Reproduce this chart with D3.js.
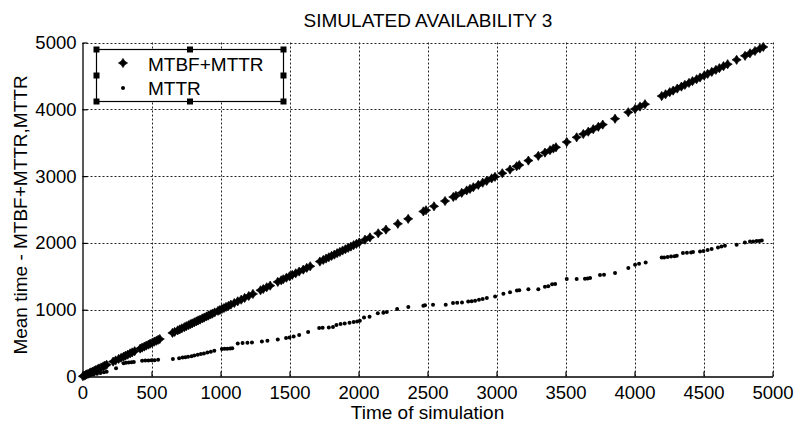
<!DOCTYPE html>
<html>
<head>
<meta charset="utf-8">
<script src="https://cdn.jsdelivr.net/npm/d3@7"></script>
<style>
body { margin: 0; background: #fff; }
text { font-family: "Liberation Sans", Arial, sans-serif; fill: #000; }
</style>
</head>
<body>
<svg id="chart" width="794" height="423"></svg>
<script>
// chart values
var titleText = "SIMULATED AVAILABILITY 3"
var xLabel = "Time of simulation"
var yLabel = "Mean time - MTBF+MTTR,MTTR"
var seriesNames = ["MTBF+MTTR", "MTTR"]
var xTicks = [0, 500, 1000, 1500, 2000, 2500, 3000, 3500, 4000, 4500, 5000]
var yTicks = [0, 1000, 2000, 3000, 4000, 5000]

// MTBF+MTTR series
var totalTimes = [3, 12, 22, 30, 40, 52, 60, 72, 85, 95, 108, 120, 135, 150, 162, 175,
    222, 240, 262, 280, 298, 312, 328, 345, 360, 378,
    418, 432, 448, 462, 478, 490, 505, 520, 535, 548, 560,
    652, 668, 690, 705, 720, 738, 752, 768, 782, 795, 810, 825, 838, 852, 868, 882, 898, 912, 928, 942, 958,
    982, 995, 1010, 1025, 1040, 1058, 1075, 1100, 1125, 1150, 1175, 1205, 1235,
    1290, 1310, 1335, 1360, 1415, 1440, 1455,
    1478, 1500, 1520, 1545, 1570, 1600, 1625, 1650,
    1720, 1745, 1765, 1785, 1805, 1825, 1845, 1865, 1885, 1905, 1925, 1945, 1965, 1985, 2005,
    2047, 2083, 2143, 2199, 2285, 2360,
    2470, 2489, 2547, 2627, 2687, 2706, 2748,
    2784, 2808, 2832, 2868, 2900, 2929, 2965, 2989,
    3042, 3098, 3146, 3165, 3231, 3303,
    3351, 3388, 3412, 3431, 3509, 3581,
    3629, 3665, 3701, 3738, 3770, 3859,
    3955, 4004, 4040, 4076,
    4197, 4225, 4255, 4280, 4310, 4340, 4365, 4395, 4420, 4450, 4475, 4505, 4530, 4560, 4590, 4615, 4645, 4675,
    4740, 4801, 4837, 4873, 4909, 4933]
var totalValues = [4, 13, 22, 31, 40, 52, 61, 72, 86, 95, 108, 121, 135, 151, 162, 176,
    223, 240, 263, 280, 298, 313, 328, 346, 360, 379,
    418, 433, 448, 463, 478, 491, 505, 521, 535, 549, 561,
    653, 668, 691, 705, 721, 738, 753, 768, 783, 795, 811, 825, 839, 852, 869, 882, 899, 912, 929, 942, 959,
    983, 995, 1011, 1025, 1041, 1058, 1076, 1100, 1126, 1150, 1176, 1205, 1236,
    1291, 1310, 1336, 1360, 1416, 1440, 1456,
    1479, 1500, 1521, 1545, 1571, 1600, 1626, 1650,
    1721, 1745, 1766, 1785, 1806, 1825, 1846, 1865, 1886, 1905, 1926, 1945, 1966, 1985, 2006,
    2048, 2083, 2144, 2199, 2286, 2360,
    2471, 2489, 2548, 2627, 2688, 2706, 2749,
    2785, 2808, 2833, 2868, 2901, 2929, 2966, 2989,
    3043, 3098, 3147, 3165, 3232, 3303,
    3352, 3388, 3413, 3431, 3510, 3581,
    3630, 3665, 3702, 3738, 3771, 3859,
    3956, 4004, 4041, 4076,
    4198, 4225, 4256, 4280, 4311, 4340, 4366, 4395, 4421, 4450, 4476, 4505, 4531, 4560, 4591, 4615, 4646, 4675,
    4741, 4801, 4838, 4873, 4910, 4933]

// MTTR series
var mttrTimes = [10, 30, 55, 80, 105, 130, 155, 175,
    243, 298, 315, 335, 355, 372,
    432, 455, 478, 500, 522, 548,
    655, 700, 725, 745, 765, 790, 810, 835, 858, 880, 905, 930, 955,
    1010, 1030, 1050, 1070, 1085,
    1125, 1160, 1195, 1228,
    1300, 1340, 1415,
    1475, 1500, 1530, 1570, 1635,
    1715, 1740, 1785, 1815,
    1840, 1870, 1900, 1935, 1965, 1990, 2010,
    2040, 2080, 2140, 2180, 2205, 2280, 2361,
    2470, 2482, 2540, 2632,
    2685, 2715, 2750, 2795, 2820, 2845, 2873, 2900, 2930,
    2990, 3050, 3098, 3148, 3165,
    3231, 3303, 3351, 3375, 3403, 3425,
    3509, 3581, 3641, 3660, 3678,
    3750, 3779, 3859,
    3955, 4004, 4033, 4081,
    4197, 4215, 4240, 4265, 4290, 4306,
    4351, 4380, 4410, 4424,
    4475, 4500, 4530, 4559,
    4605, 4630, 4655, 4740,
    4800, 4837, 4860, 4885, 4905, 4922]
var mttrValues = [4, 12, 20, 30, 42, 52, 62, 70,
    125, 200, 205, 210, 212, 216,
    235, 238, 240, 242, 245, 250,
    262, 275, 285, 290, 295, 305, 315, 325, 335, 345, 358, 372, 385,
    412, 415, 417, 420, 422,
    495, 500, 505, 510,
    525, 535, 555,
    575, 585, 600, 620, 665,
    725, 730, 735, 740,
    770, 785, 795, 805, 815, 825, 835,
    885, 895, 945, 955, 965, 1010, 1039,
    1060, 1065, 1073, 1073,
    1100, 1105, 1108, 1123, 1128, 1133, 1148, 1160, 1174,
    1198, 1238, 1263, 1288, 1290,
    1308, 1308, 1345, 1350, 1380, 1386,
    1458, 1458, 1463, 1468, 1473,
    1520, 1524, 1548,
    1623, 1672, 1687, 1707,
    1781, 1783, 1790, 1795, 1802, 1807,
    1847, 1852, 1858, 1862,
    1871, 1880, 1892, 1907,
    1931, 1945, 1956, 1971,
    2006, 2021, 2021, 2028, 2030, 2036]

var svg = d3.select("#chart")
var plotLeft = 82.5, plotRight = 772.5, plotTop = 42.5, plotBottom = 376.5

var xScale = d3.scaleLinear().domain([0, 5000]).range([plotLeft, plotRight])
var yScale = d3.scaleLinear().domain([0, 5000]).range([plotBottom, plotTop])

// grid, dotted like the original
var grid = svg.append("g")
grid.selectAll("line.vgrid")
    .data(xTicks.filter(function(d){return d > 0}))
    .enter()
        .append("line")
        .attr("x1", function(d){return Math.round(xScale(d)) + 0.5})
        .attr("x2", function(d){return Math.round(xScale(d)) + 0.5})
        .attr("y1", plotTop)
        .attr("y2", plotBottom)
        .attr("stroke", "#222")
        .attr("stroke-width", 1)
        .attr("stroke-dasharray", "2,2")
grid.selectAll("line.hgrid")
    .data(yTicks.filter(function(d){return d > 0}))
    .enter()
        .append("line")
        .attr("x1", plotLeft)
        .attr("x2", plotRight)
        .attr("y1", function(d){return Math.round(yScale(d)) + 0.5})
        .attr("y2", function(d){return Math.round(yScale(d)) + 0.5})
        .attr("stroke", "#222")
        .attr("stroke-width", 1)
        .attr("stroke-dasharray", "2,2")

// axes: ticks point inward
var xAxis = d3.axisBottom(xScale).tickValues(xTicks).tickFormat(d3.format("d"))
    .tickSizeInner(-5).tickSizeOuter(0).tickPadding(9)
var yAxis = d3.axisLeft(yScale).tickValues(yTicks).tickFormat(d3.format("d"))
    .tickSizeInner(-5).tickSizeOuter(0).tickPadding(6)

svg.append("g").attr("transform", "translate(0," + plotBottom + ")").call(xAxis)
svg.append("g").attr("transform", "translate(" + plotLeft + ",0)").call(yAxis)

svg.selectAll(".domain").attr("stroke", "#000").attr("stroke-width", 1.3)
svg.selectAll(".tick line").attr("stroke", "#000").attr("stroke-width", 1.2)
svg.selectAll(".tick text")
    .style("font-family", "'Liberation Sans', Arial, sans-serif")
    .style("font-size", "18.5px")
    .attr("fill", "#000")

// star marker for MTBF+MTTR
function starPath(r, w)
{
    return "M0," + (-r) + "L" + w + "," + (-w) + "L" + r + ",0L" + w + "," + w +
        "L0," + r + "L" + (-w) + "," + w + "L" + (-r) + ",0L" + (-w) + "," + (-w) + "Z"
}

var totalData = totalTimes.map(function(t, i){return {x: t, y: totalValues[i]}})
var mttrData = mttrTimes.map(function(t, i){return {x: t, y: mttrValues[i]}})

svg.append("g").selectAll("path")
    .data(totalData)
    .enter()
        .append("path")
        .attr("d", starPath(4.6, 1.8))
        .attr("transform", function(d){return "translate(" + xScale(d.x) + "," + yScale(d.y) + ")"})
        .attr("fill", "#000")
        .attr("stroke", "#000")
        .attr("stroke-width", 0.7)

svg.append("g").selectAll("circle")
    .data(mttrData)
    .enter()
        .append("circle")
        .attr("r", 2)
        .attr("cx", function(d){return xScale(d.x)})
        .attr("cy", function(d){return yScale(d.y)})
        .attr("fill", "#000")

// title and axis labels
svg.append("text")
    .attr("x", (plotLeft + plotRight) / 2 + 0.5)
    .attr("y", 27)
    .attr("text-anchor", "middle")
    .style("font-size", "19px")
    .text(titleText)

svg.append("text")
    .attr("x", (plotLeft + plotRight) / 2)
    .attr("y", 419)
    .attr("text-anchor", "middle")
    .style("font-size", "19px")
    .text(xLabel)

svg.append("text")
    .attr("transform", "translate(27,215) rotate(-90)")
    .attr("text-anchor", "middle")
    .style("font-size", "19px")
    .text(yLabel)

// legend, with the selection handles seen in the picture
var lg = {x: 96, y: 49, w: 187, h: 52}
var legend = svg.append("g")
legend.append("rect")
    .attr("x", lg.x + 0.5)
    .attr("y", lg.y + 0.5)
    .attr("width", lg.w)
    .attr("height", lg.h)
    .attr("fill", "#fff")
    .attr("stroke", "#000")
    .attr("stroke-width", 1.2)

var handles = [[0, 0], [0.5, 0], [1, 0], [0, 0.5], [1, 0.5], [0, 1], [0.5, 1], [1, 1]]
legend.selectAll("rect.handle")
    .data(handles)
    .enter()
        .append("rect")
        .attr("class", "handle")
        .attr("x", function(d){return lg.x + 0.5 + d[0] * lg.w - 3})
        .attr("y", function(d){return lg.y + 0.5 + d[1] * lg.h - 3})
        .attr("width", 6)
        .attr("height", 6)
        .attr("fill", "#000")

legend.append("path")
    .attr("d", starPath(4.6, 1.8))
    .attr("transform", "translate(123,63)")
    .attr("fill", "#000")
    .attr("stroke", "#000")
    .attr("stroke-width", 0.7)
legend.append("circle")
    .attr("cx", 123)
    .attr("cy", 88)
    .attr("r", 2)
    .attr("fill", "#000")

legend.selectAll("text.entry")
    .data(seriesNames)
    .enter()
        .append("text")
        .attr("class", "entry")
        .attr("x", 148)
        .attr("y", function(d, i){return 71 + i * 24})
        .style("font-size", "19px")
        .text(function(d){return d})
</script>
</body>
</html>
